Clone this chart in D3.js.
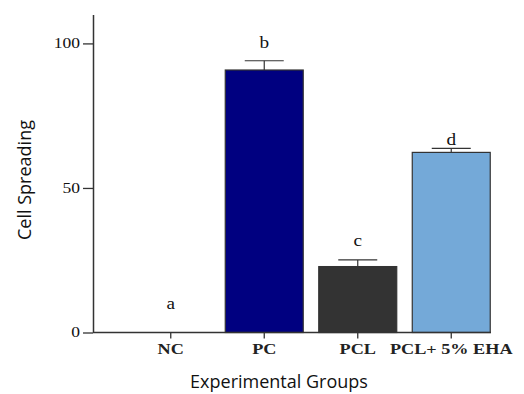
<!DOCTYPE html>
<html lang="en">
<head>
<meta charset="UTF-8">
<title>Cell Spreading</title>
<script src="https://d3js.org/d3.v7.min.js"></script>
<style>
  body { margin: 0; background: #fff; }
  .tick text { font-family: "Liberation Serif", serif; }
</style>
</head>
<body>
<div id="chart"></div>
<script>
// data
var groups = ["NC", "PC", "PCL", "PCL+ 5% EHA"];
var means = [0, 90.8, 22.8, 62.3];
var errors = [0, 3.2, 2.3, 1.4];
var letters = ["a", "b", "c", "d"];
var letterAt = [10, 100.5, 31.8, 66.8];
var colors = ["#ffffff", "#000080", "#333333", "#74a9d8"];
var yTicks = [0, 50, 100];

var width = 524, height = 394;

var svg = d3.select("#chart")
  .append("svg")
  .attr("width", width)
  .attr("height", height);

var x = d3.scaleBand()
  .domain(groups)
  .range([124, 498])
  .paddingInner(0.166)
  .paddingOuter(0.083);

var y = d3.scaleLinear()
  .domain([0, 110])
  .range([332.5, 14.5]);

// the serif labels in the original look stretched sideways
function widen(sel, k) {
  sel.each(function() {
    var len = this.getComputedTextLength();
    d3.select(this)
      .attr("textLength", len * k)
      .attr("lengthAdjust", "spacingAndGlyphs");
  });
}

// y axis
var yAxis = svg.append("g")
  .attr("transform", "translate(93,0)")
  .call(d3.axisLeft(y).tickValues(yTicks).tickSize(10).tickSizeOuter(0));
yAxis.select(".domain").attr("stroke", "#333").attr("stroke-width", 1.5);
yAxis.selectAll(".tick line").attr("stroke", "#333").attr("stroke-width", 1.3);
yAxis.selectAll(".tick text").attr("font-size", 14).attr("fill", "#111").attr("x", -13);
widen(yAxis.selectAll(".tick text"), 1.25);

// bars
svg.selectAll("rect.bar")
  .data(groups)
  .enter()
  .append("rect")
  .attr("class", "bar")
  .attr("x", function(d) { return x(d); })
  .attr("width", x.bandwidth())
  .attr("y", function(d, i) { return y(means[i]); })
  .attr("height", function(d, i) { return y(0) - y(means[i]); })
  .attr("fill", function(d, i) { return colors[i]; })
  .attr("stroke", function(d, i) { return means[i] > 0 ? "#333" : "none"; })
  .attr("stroke-width", 1.2);

// error bars (upper only)
var capW = x.bandwidth() / 2;
groups.forEach(function(g, i) {
  if (means[i] <= 0) return;
  var cx = x(g) + x.bandwidth() / 2;
  svg.append("line")
    .attr("x1", cx).attr("x2", cx)
    .attr("y1", y(means[i])).attr("y2", y(means[i] + errors[i]))
    .attr("stroke", "#333").attr("stroke-width", 1.2);
  svg.append("line")
    .attr("x1", cx - capW / 2).attr("x2", cx + capW / 2)
    .attr("y1", y(means[i] + errors[i])).attr("y2", y(means[i] + errors[i]))
    .attr("stroke", "#333").attr("stroke-width", 1.2);
});

// significance letters
var lt = svg.selectAll("text.letter")
  .data(letters)
  .enter()
  .append("text")
  .attr("class", "letter")
  .attr("x", function(d, i) { return x(groups[i]) + x.bandwidth() / 2; })
  .attr("y", function(d, i) { return y(letterAt[i]); })
  .attr("dy", "0.35em")
  .attr("text-anchor", "middle")
  .attr("font-family", "Liberation Serif, serif")
  .attr("font-size", 16)
  .attr("fill", "#111")
  .text(function(d) { return d; });
widen(lt, 1.2);

// x axis
var xAxis = svg.append("g")
  .attr("transform", "translate(0,332.5)")
  .call(d3.axisBottom(x).tickSize(6).tickSizeOuter(0));
xAxis.select(".domain").attr("d", "M93,0H491").attr("stroke", "#333").attr("stroke-width", 1.5);
xAxis.selectAll(".tick line").attr("stroke", "#333").attr("stroke-width", 1.3);
xAxis.selectAll(".tick text")
  .attr("font-size", 14)
  .attr("font-weight", "bold")
  .attr("fill", "#222")
  .attr("y", 12);
widen(xAxis.selectAll(".tick text"), 1.3);

// axis titles
svg.append("text")
  .attr("x", 279)
  .attr("y", 388)
  .attr("text-anchor", "middle")
  .attr("font-family", "Open Sans, sans-serif")
  .attr("font-size", 18)
  .attr("fill", "#111")
  .text("Experimental Groups");

svg.append("text")
  .attr("transform", "translate(31,180) rotate(-90)")
  .attr("text-anchor", "middle")
  .attr("font-family", "Open Sans, sans-serif")
  .attr("font-size", 18)
  .attr("fill", "#111")
  .text("Cell Spreading");
</script>
</body>
</html>
